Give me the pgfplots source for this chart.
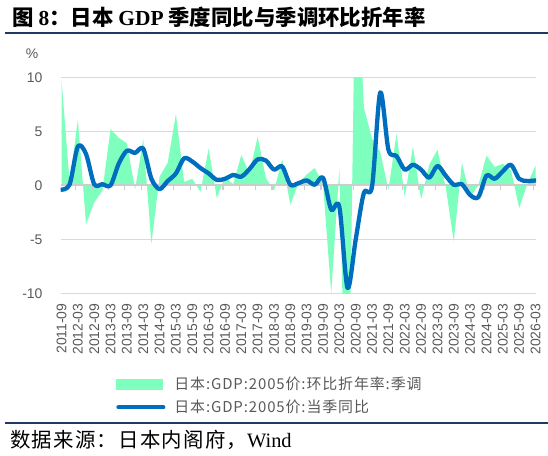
\documentclass[border=0pt]{standalone}
\usepackage{pgfplots}
\pgfplotsset{compat=1.18}
\usepackage{pgfplotstable}
\usepackage{fontspec}
\setmainfont{Liberation Sans}
\newfontfamily\cjk{Noto Sans CJK SC}
\newfontfamily\cjkls{Noto Sans CJK SC}[LetterSpace=6]
\newfontfamily\serif{Liberation Serif}
\definecolor{mint}{RGB}{127,255,190}
\definecolor{gdpblue}{RGB}{0,110,190}
\definecolor{gridgray}{RGB}{217,217,217}
\definecolor{zerogray}{RGB}{205,205,205}
\definecolor{labgray}{RGB}{89,89,89}
\definecolor{navy}{RGB}{31,56,100}

% 环比折年率（季调）
\pgfplotstableread{
i v
0 9.8
1 0.2
2 6.1
3 -3.6
4 -1.6
5 -0.5
6 5.2
7 4.4
8 3.9
9 -0.4
10 4.3
11 -5.4
12 0.8
13 2.1
14 6.6
15 0.3
16 0.6
17 -0.6
18 3.4
19 -1.2
20 0.8
21 0.1
22 2.8
23 1.1
24 4.5
25 0.7
26 -0.5
27 2.4
28 -1.8
29 0.2
30 1.0
31 1.6
32 0.1
33 -10.0
34 1.6
35 -30.0
36 23.0
37 7.2
38 4.3
39 3.1
40 -0.4
41 4.8
42 -1.1
43 3.6
44 -1.3
45 1.9
46 3.3
47 -0.1
48 -5.2
49 2.1
50 -1.1
51 0.0
52 2.75
53 1.7
54 2.0
55 1.4
56 -2.1
57 0.1
58 1.8
}\qoq

% 当季同比
\pgfplotstableread{
i v
0 -0.4
1 0.1
2 3.6
3 2.9
4 0.1
5 0.1
6 0.0
7 2.0
8 3.2
9 3.0
10 3.4
11 0.6
12 -0.35
13 0.4
14 1.1
15 2.5
16 2.2
17 1.6
18 1.1
19 0.5
20 0.6
21 0.95
22 0.8
23 1.5
24 2.4
25 2.3
26 1.45
27 1.75
28 0.05
29 0.2
30 0.45
31 0.05
32 0.7
33 -2.25
34 -2.0
35 -9.5
36 -5.0
37 -0.7
38 -0.1
39 8.6
40 3.3
41 2.7
42 1.45
43 1.9
44 1.45
45 0.7
46 1.8
47 0.9
48 0.05
49 0.1
50 -0.9
51 -1.1
52 0.9
53 0.6
54 1.3
55 1.9
56 0.6
57 0.4
58 0.45
}\yoy

\begin{document}
\begin{tikzpicture}
\useasboundingbox (0,0) rectangle (548bp,456bp);
\begin{axis}[
  scale only axis, width=475.3bp, height=216bp,
  at={(60.7bp,162.7bp)}, anchor=south west,
  xmin=-0.1, xmax=58.06, ymin=-10, ymax=10,
  axis line style={draw=none},
  major tick length=0pt,
  ytick={-10,-5,0,5,10}, yticklabels={-10,-5,0,5,10},
  ymajorgrids, grid style={color=gridgray, line width=0.9bp},
  xtick={0,2,...,58},
  xticklabels={2011-09,2012-03,2012-09,2013-03,2013-09,2014-03,2014-09,2015-03,2015-09,2016-03,2016-09,2017-03,2017-09,2018-03,2018-09,2019-03,2019-09,2020-03,2020-09,2021-03,2021-09,2022-03,2022-09,2023-03,2023-09,2024-03,2024-09,2025-03,2025-09,2026-03},
  tick label style={font=\fontsize{14}{16}\selectfont, text=labgray},
  xticklabel style={rotate=90, anchor=east, inner sep=0pt},
  xticklabel shift=10bp,
  yticklabel style={anchor=east, inner sep=0pt},
  yticklabel shift=18bp,
]
\addplot[fill=mint, draw=none] table[x=i,y=v]{\qoq} \closedcycle;
\end{axis}
\begin{axis}[
  scale only axis, width=475.3bp, height=216bp,
  at={(60.7bp,162.7bp)}, anchor=south west,
  xmin=-0.1, xmax=58.06, ymin=-10, ymax=10,
  axis x line=middle, axis y line=none,
  x axis line style={draw=zerogray, line width=1.8bp, -},
  xtick={1.75,3.75,...,57.75}, xticklabels={},
  xtick style={draw=zerogray, line width=1.2bp},
  major tick length=4.5bp, xtick align=outside,
  ytick=\empty,
  legend style={at={(0.1163,-0.378)}, anchor=north west, draw=none, fill=none,
    inner sep=0pt, font=\fontsize{15}{18}\selectfont\cjkls, text=labgray,
    nodes={inner ysep=2bp, inner xsep=1bp}, row sep=5bp,
    /tikz/every odd column/.append style={column sep=8bp}},
  legend cell align=left,
]
\addlegendimage{legend image code/.code={\fill[mint] (0bp,-5bp) rectangle (46bp,5bp);}}
\addlegendentry{日本:GDP:2005价:环比折年率:季调}
\addplot[gdpblue, line width=4.3bp, line cap=round, line join=round, smooth, tension=0.5,
  legend image code/.code={\draw[gdpblue, line width=4bp, line cap=round] (2bp,0bp) -- (47bp,0bp);}]
  table[x=i,y=v]{\yoy};
\addlegendentry{日本:GDP:2005价:当季同比}
\end{axis}
\node[anchor=west, inner sep=0pt] at (12bp,439bp)
  {\fontsize{21.5}{24}\selectfont\cjk\bfseries 图 {\serif\bfseries 8}：日本 {\serif\bfseries GDP} 季度同比与季调环比折年率};
\draw[navy, line width=1.8bp] (5bp,423bp) -- (548bp,423bp);
\node[inner sep=0pt, text=labgray] at (32bp,402bp) {\fontsize{14}{16}\selectfont \%};
\draw[navy, line width=1.5bp] (5bp,33bp) -- (548bp,33bp);
\node[anchor=west, inner sep=0pt] at (10bp,16bp)
  {\fontsize{20.5}{24}\selectfont\cjkls 数据来源：日本内阁府，{\serif Wind}};
\end{tikzpicture}
\end{document}
